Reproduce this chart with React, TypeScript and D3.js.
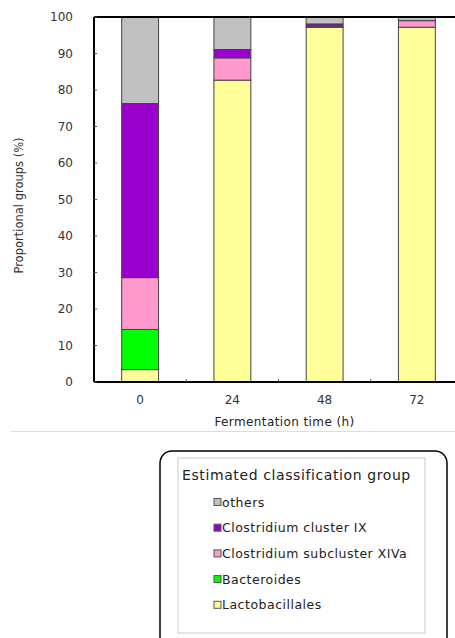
import React from "react";
import * as d3 from "d3";

// Fermentation time points (h)
const times = ["0", "24", "48", "72"];

// Stacked proportions (%) per group, bottom to top
const lactobacillales = [3.4, 82.7, 97.2, 97.2];
const bacteroides = [11.0, 0, 0, 0];
const clostridiumXIVa = [14.2, 6.1, 0.1, 1.8];
const clostridiumIX = [47.7, 2.3, 0.8, 0];
const others = [23.7, 8.9, 1.9, 1.0];

const groupNames = [
  "Lactobacillales",
  "Bacteroides",
  "Clostridium subcluster XIVa",
  "Clostridium cluster IX",
  "others",
];
const groupColors = ["#FFFF99", "#00FF00", "#FF99CC", "#9900CC", "#C0C0C0"];
const yTicks = [0, 10, 20, 30, 40, 50, 60, 70, 80, 90, 100];

const legendOrder = [4, 3, 2, 1, 0];

export default function App() {
  const W = 455;
  const H = 638;
  const plot = { left: 94, right: 463, top: 17, bottom: 382 };

  const x = d3
    .scaleBand<string>()
    .domain(times)
    .range([plot.left, plot.right])
    .paddingInner(0.6)
    .paddingOuter(0.3);
  const band = d3.scaleBand<string>().domain(times).range([plot.left, plot.right]);
  const y = d3.scaleLinear().domain([0, 100]).range([plot.bottom, plot.top]);

  const rows = times.map((t, i) => ({
    t,
    g0: lactobacillales[i],
    g1: bacteroides[i],
    g2: clostridiumXIVa[i],
    g3: clostridiumIX[i],
    g4: others[i],
  }));
  const stack = d3.stack<any>().keys(["g0", "g1", "g2", "g3", "g4"]);
  const series = stack(rows);

  const font = "'DejaVu Sans', Arial, sans-serif";

  return (
    <svg width={W} height={H} style={{ position: "absolute", left: 0, top: 0 }}>
      <rect width={W} height={H} fill="#fff" />
      {/* bars */}
      {series.map((s, gi) =>
        s.map((d, i) =>
          d[1] - d[0] > 0 ? (
            <rect
              key={`${gi}-${i}`}
              x={x(times[i])}
              width={x.bandwidth()}
              y={y(d[1])}
              height={y(d[0]) - y(d[1])}
              fill={groupColors[gi]}
              stroke="#444"
              strokeWidth={1}
            />
          ) : null
        )
      )}
      {/* axes */}
      <line x1={plot.left} x2={plot.right} y1={plot.top} y2={plot.top} stroke="#000" strokeWidth={2} />
      <line x1={plot.left} x2={plot.right} y1={plot.bottom} y2={plot.bottom} stroke="#000" strokeWidth={2} />
      <line x1={plot.left} x2={plot.left} y1={plot.top} y2={plot.bottom} stroke="#000" strokeWidth={2} />
      {yTicks.map((v) => (
        <g key={v}>
          <line x1={plot.left} x2={plot.left + 3} y1={y(v)} y2={y(v)} stroke="#555" strokeWidth={1} />
          <text
            x={73}
            y={y(v)}
            textAnchor="end"
            dominantBaseline="central"
            fontFamily={font}
            fontSize={12}
            fill="#333"
          >
            {v}
          </text>
        </g>
      ))}
      {times.slice(1).map((t) => (
        <line
          key={t}
          x1={band(t)}
          x2={band(t)}
          y1={plot.bottom}
          y2={plot.bottom - 3}
          stroke="#555"
          strokeWidth={1}
        />
      ))}
      {times.map((t) => (
        <text
          key={t}
          x={(x(t) as number) + x.bandwidth() / 2}
          y={400}
          textAnchor="middle"
          dominantBaseline="central"
          fontFamily={font}
          fontSize={12}
          fill="#333"
        >
          {t}
        </text>
      ))}
      <text
        x={(plot.left + plot.right) / 2 + 6}
        y={421.5}
        textAnchor="middle"
        dominantBaseline="central"
        fontFamily={font}
        fontSize={12}
        letterSpacing={0.4}
        fill="#222"
      >
        Fermentation time (h)
      </text>
      <text
        transform={`translate(19,${(plot.top + plot.bottom) / 2 + 6}) rotate(-90)`}
        textAnchor="middle"
        dominantBaseline="central"
        fontFamily={font}
        fontSize={11.5}
        fill="#333"
      >
        Proportional groups (%)
      </text>
      {/* separator */}
      <line x1={11} x2={W} y1={431.5} y2={431.5} stroke="#ddd" strokeWidth={1} />
      {/* legend */}
      <rect x={160} y={451} width={287} height={200} rx={12} ry={12} fill="#fff" stroke="#000" strokeWidth={1.5} />
      <rect x={178} y={458} width={247} height={175} fill="#fff" stroke="#ccc" strokeWidth={1} />
      <text x={182} y={475} dominantBaseline="central" fontFamily={font} fontSize={14} letterSpacing={0.6} fill="#222">
        Estimated classification group
      </text>
      {legendOrder.map((gi, k) => {
        const cy = 502 + k * 25.7;
        return (
          <g key={gi}>
            <rect x={214} y={cy - 3.5} width={7} height={7} fill={groupColors[gi]} stroke="#555" strokeWidth={1} />
            <text x={222} y={cy} dominantBaseline="central" fontFamily={font} fontSize={12.5} letterSpacing={0.5} fill="#222">
              {groupNames[gi]}
            </text>
          </g>
        );
      })}
    </svg>
  );
}
